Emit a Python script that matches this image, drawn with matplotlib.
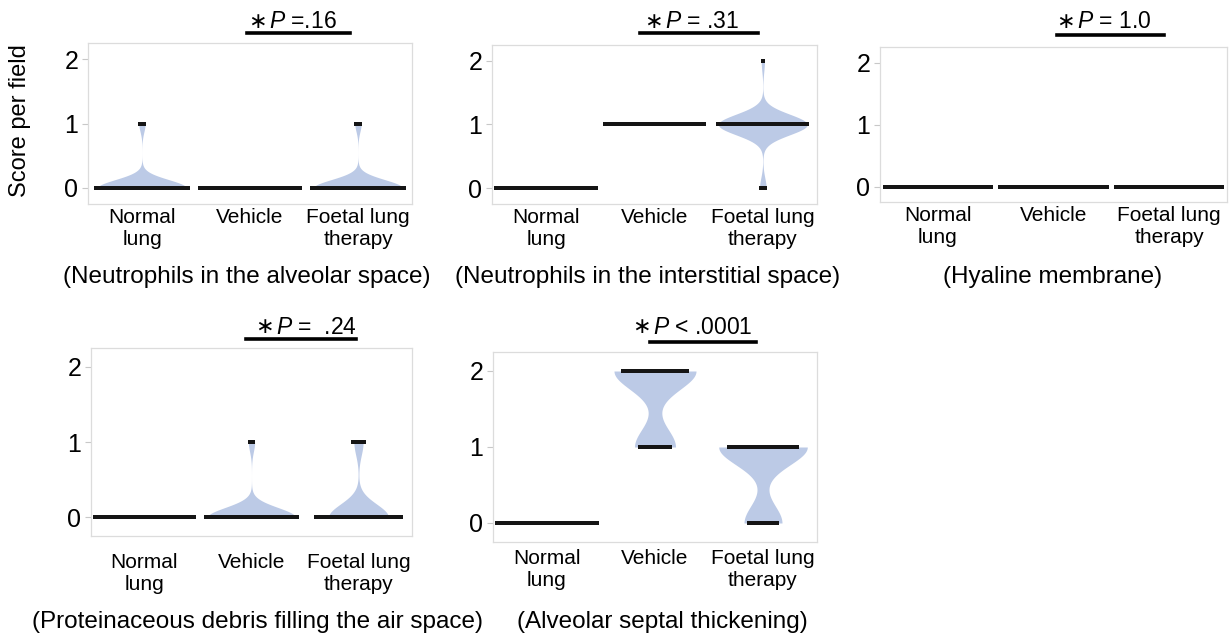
import numpy as np
import matplotlib
matplotlib.use("Agg")
import matplotlib.pyplot as plt

plt.rcParams['font.family'] = ['Liberation Sans', 'DejaVu Sans']
plt.rcParams['mathtext.fontset'] = 'custom'
plt.rcParams['mathtext.it'] = 'Liberation Sans:italic'
plt.rcParams['mathtext.rm'] = 'Liberation Sans'

groups = ['Normal\nlung', 'Vehicle', 'Foetal lung\ntherapy']
scores = [0, 1, 2]

# number of fields scoring 0 / 1 / 2, per group
alveolar_counts = [[28, 2, 0], [30, 0, 0], [28, 2, 0]]
interstitial_counts = [[30, 0, 0], [0, 30, 0], [2, 27, 1]]
hyaline_counts = [[30, 0, 0], [30, 0, 0], [30, 0, 0]]
debris_counts = [[30, 0, 0], [28, 2, 0], [26, 4, 0]]
septal_counts = [[30, 0, 0], [0, 10, 20], [9, 21, 0]]

panel_counts = [alveolar_counts, interstitial_counts, hyaline_counts,
                debris_counts, septal_counts]
panel_titles = ['(Neutrophils in the alveolar space)',
                '(Neutrophils in the interstitial space)',
                '(Hyaline membrane)',
                '(Proteinaceous debris filling the air space)',
                '(Alveolar septal thickening)']
p_labels = ['=.16', '= .31', '= 1.0', '=  .24', '< .0001']

violin_col = '#bccae6'
dot_col = '#151515'

fig = plt.figure(figsize=(12.3, 6.36), dpi=100)
W, H = 1230, 636


def px_axes(x0, y0, x1, y1):
    return fig.add_axes([x0 / W, 1 - y1 / H, (x1 - x0) / W, (y1 - y0) / H])


boxes = [(88, 43, 412, 204), (492, 45, 817, 204), (880, 47, 1227, 202),
         (91, 348, 412, 536), (493, 352, 817, 542)]
tick_pads = [3, 3, 3, 12, 5]
title_y = [277, 277, 277, 622, 622]
title_x = [247, 648, 1053, 257, 662]
# (asterisk left x, text y, line x0, line x1, line y)
p_pos = [(248, 22, 247, 350, 33), (644, 22, 640, 758, 33), (1056, 22, 1057, 1164, 35),
         (255, 327, 246, 356, 339), (632, 327, 650, 756, 342)]


def kde(data, grid):
    data = np.asarray(data, float)
    bw = data.std(ddof=1) * len(data) ** (-0.2)
    z = (grid[:, None] - data[None, :]) / bw
    return np.exp(-0.5 * z ** 2).sum(axis=1) / (len(data) * bw * np.sqrt(2 * np.pi))


for k, counts in enumerate(panel_counts):
    ax = px_axes(*boxes[k])
    # violins, area-scaled within the panel
    dens = []
    for i, c in enumerate(counts):
        data = np.repeat(scores, c)
        if len(np.unique(data)) > 1:
            yy = np.linspace(data.min(), data.max(), 300)
            dens.append((i, yy, kde(data, yy)))
    if dens:
        dmax = max(d.max() for _, _, d in dens)
        for i, yy, d in dens:
            half = d / dmax * 0.41
            ax.fill_betweenx(yy, i - half, i + half, color=violin_col, lw=0, zorder=1)
    # one dot per field, laid side by side at its score
    step = 0.95 / 30
    for i, c in enumerate(counts):
        for s, n in zip(scores, c):
            if n == 0:
                continue
            xs = i + (np.arange(n) - (n - 1) / 2) * step
            ax.scatter(xs, np.full(n, s), s=7, color=dot_col, marker='s',
                       lw=0, zorder=3)

    ax.set_xlim(-0.5, 2.5)
    ax.set_ylim(-0.25, 2.25)
    ax.set_yticks([0, 1, 2])
    ax.set_xticks(range(3))
    ax.set_xticklabels(groups, fontsize=15, linespacing=1.2, va='top')
    ax.tick_params(axis='x', length=0, pad=tick_pads[k])
    ax.tick_params(axis='y', length=4, color='#c8c8c8', labelsize=18, pad=3)
    for sp in ax.spines.values():
        sp.set_color('#dcdcdc')
        sp.set_linewidth(0.9)

    fig.text(title_x[k] / W, 1 - title_y[k] / H, panel_titles[k], fontsize=17.5,
             ha='center', va='center')
    ax_x, ty, lx0, lx1, ly = p_pos[k]
    fig.text(ax_x / W, 1 - ty / H, '\u2217', family='DejaVu Sans', fontsize=16,
             ha='left', va='center')
    fig.text((ax_x + 21) / W, 1 - ty / H, '$\\mathit{P}$ ' + p_labels[k], fontsize=16.5,
             ha='left', va='center')
    fig.add_artist(plt.Line2D([lx0 / W, lx1 / W], [1 - ly / H, 1 - ly / H],
                              color='black', lw=2.6))

fig.text(20 / W, 1 - 121 / H, 'Score per field', rotation=90, fontsize=17,
         ha='center', va='center')

fig.savefig('out.png', dpi=100)
